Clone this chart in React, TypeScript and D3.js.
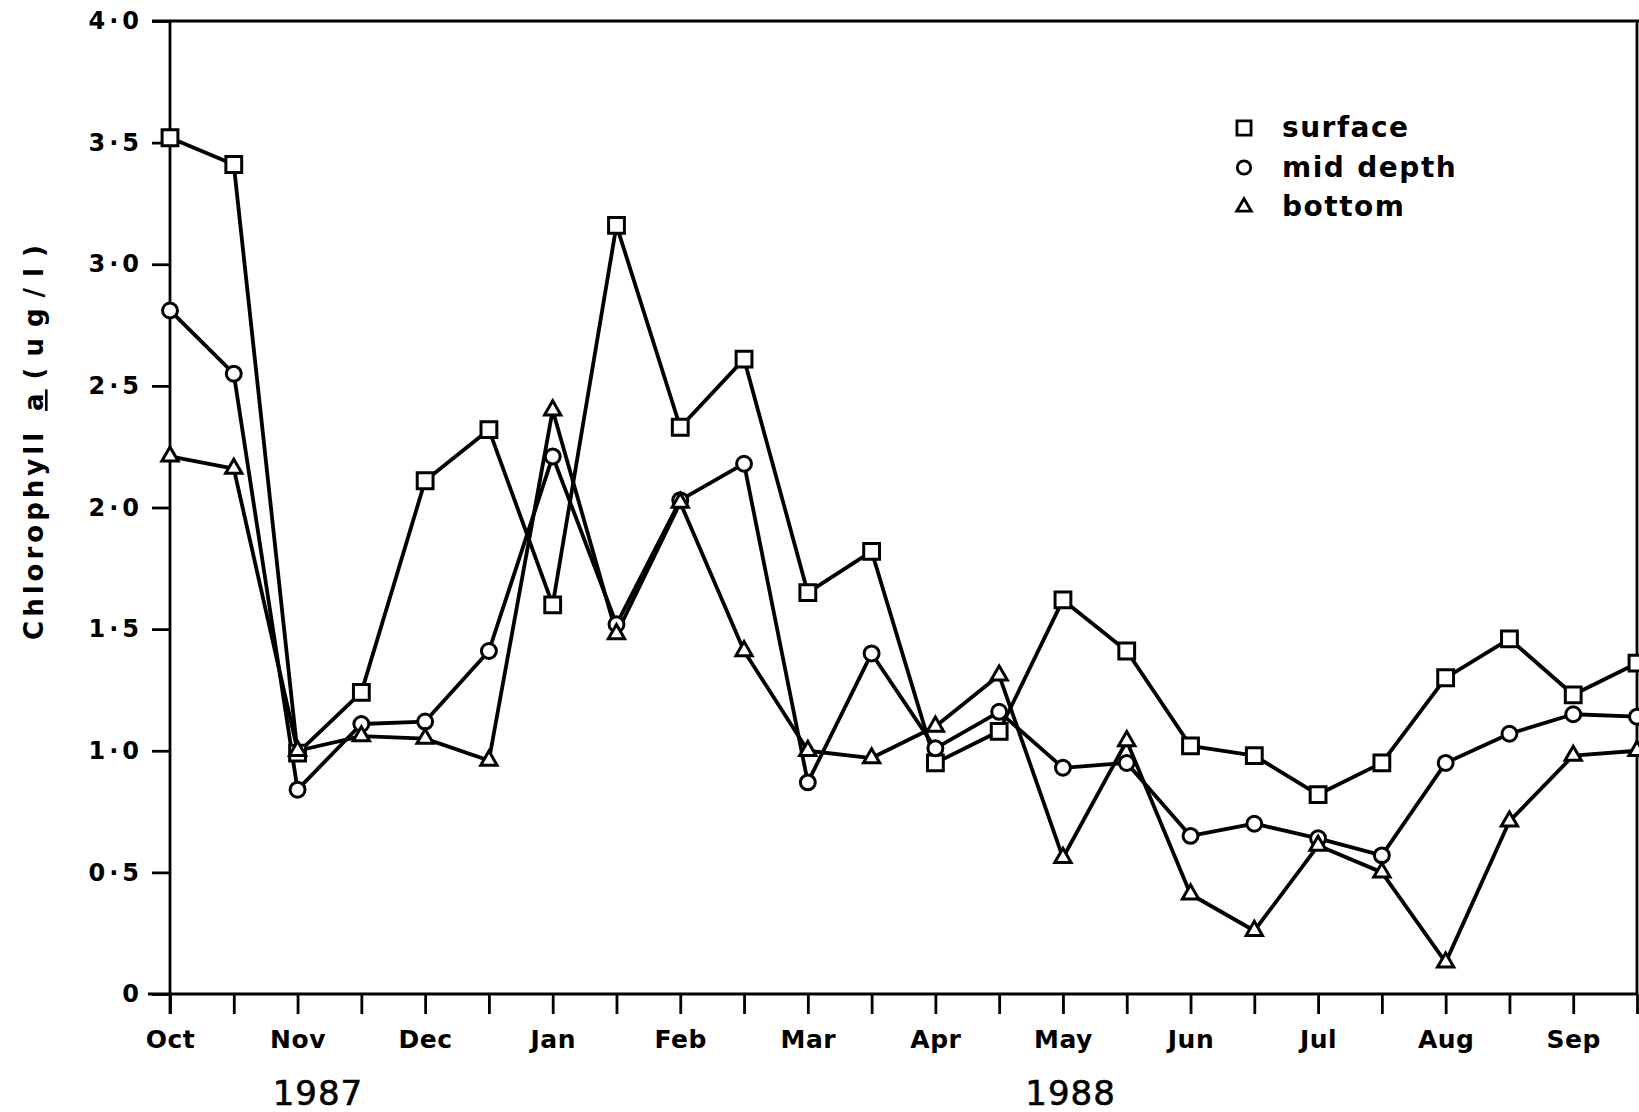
import * as d3 from "d3";
import { useEffect, useRef } from "react";

// monthly-ish sampling, Oct 1987 .. Sep 1988 (two samples per month)
const months = ["Oct", "", "Nov", "", "Dec", "", "Jan", "", "Feb", "", "Mar", "", "Apr", "", "May", "", "Jun", "", "Jul", "", "Aug", "", "Sep", ""];
const surface = [3.52, 3.41, 0.99, 1.24, 2.11, 2.32, 1.60, 3.16, 2.33, 2.61, 1.65, 1.82, 0.95, 1.08, 1.62, 1.41, 1.02, 0.98, 0.82, 0.95, 1.30, 1.46, 1.23, 1.36];
const midDepth = [2.81, 2.55, 0.84, 1.11, 1.12, 1.41, 2.21, 1.52, 2.03, 2.18, 0.87, 1.40, 1.01, 1.16, 0.93, 0.95, 0.65, 0.70, 0.64, 0.57, 0.95, 1.07, 1.15, 1.14];
const bottom = [2.21, 2.16, 1.00, 1.06, 1.05, 0.96, 2.40, 1.48, 2.02, 1.41, 1.00, 0.97, 1.10, 1.31, 0.56, 1.04, 0.41, 0.26, 0.61, 0.50, 0.13, 0.71, 0.98, 1.00];
const yTicks = [0, 0.5, 1, 1.5, 2, 2.5, 3, 3.5, 4];
const years = ["1987", "1988"];
const yearAt = [2.32, 14.12];

const FONT = "'DejaVu Sans', Verdana, sans-serif";

export default function App() {
    const axisBottomRef = useRef<SVGGElement>(null);
    const axisLeftRef = useRef<SVGGElement>(null);

    const width = 1639;
    const height = 1112;
    const margin = { top: 21, right: 2, bottom: 118, left: 170 };

    const x = d3.scaleLinear().domain([0, months.length - 1]).range([margin.left, width - margin.right]);
    const y = d3.scaleLinear().domain([0, 4]).range([height - margin.bottom, margin.top]);

    const line = d3.line<number>().x((d, i) => x(i)).y(d => y(d));

    const series = [
        { name: "surface", values: surface, shape: d3.symbolSquare, size: 250 },
        { name: "mid depth", values: midDepth, shape: d3.symbolCircle, size: 175 },
        { name: "bottom", values: bottom, shape: d3.symbolTriangle, size: 115 },
    ];

    useEffect(() => {
        if (axisBottomRef.current) {
            const g = d3.select(axisBottomRef.current);
            g.call(
                d3.axisBottom(x)
                    .tickValues(d3.range(months.length))
                    .tickSize(20)
                    .tickPadding(16)
                    .tickFormat(i => months[i as number])
            );
            g.select(".domain").remove();
            g.attr("font-family", FONT).attr("font-size", 25).attr("font-weight", "bold");
            g.selectAll("line").attr("stroke", "#000").attr("stroke-width", 2.8);
            g.selectAll("text").attr("fill", "#000").attr("letter-spacing", 0.5);
        }
        if (axisLeftRef.current) {
            const g = d3.select(axisLeftRef.current);
            g.call(
                d3.axisLeft(y)
                    .tickValues(yTicks)
                    .tickSize(18)
                    .tickPadding(13)
                    .tickFormat(d => (d === 0 ? "0" : (d as number).toFixed(1).replace(".", "·")))
            );
            g.select(".domain").remove();
            g.attr("font-family", FONT).attr("font-size", 24).attr("font-weight", "bold");
            g.selectAll("line").attr("stroke", "#000").attr("stroke-width", 2.8);
            g.selectAll("text").attr("fill", "#000").attr("letter-spacing", 4).attr("dx", 4);
        }
    }, [x, y]);

    const x0 = x.range()[0];
    const x1 = x.range()[1];
    const yTop = y.range()[1];
    const yBot = y.range()[0];

    return (
        <div>
            <style>{"body{margin:0;background:#fff}"}</style>
            <svg width={width} height={height} style={{ display: "block", background: "#fff" }}>
                {/* frame */}
                <line x1={x0 - 18} x2={width} y1={yTop} y2={yTop} stroke="#000" strokeWidth={2.8} />
                <line x1={x0 - 22} x2={x1} y1={yBot} y2={yBot} stroke="#000" strokeWidth={3} />
                <line x1={x0} x2={x0} y1={yTop} y2={yBot + 20} stroke="#000" strokeWidth={2.8} />
                <line x1={x1} x2={x1} y1={yTop} y2={yBot} stroke="#000" strokeWidth={2.8} />

                <g ref={axisBottomRef} transform={`translate(0, ${yBot})`} />
                <g ref={axisLeftRef} transform={`translate(${x0}, 0)`} />

                {series.map(s => (
                    <path key={`line-${s.name}`} d={line(s.values) || ""} fill="none" stroke="#000" strokeWidth={3.8} strokeLinejoin="round" />
                ))}
                {series.map(s => (
                    <g key={`pts-${s.name}`}>
                        {s.values.map((v, i) => (
                            <path
                                key={i}
                                transform={`translate(${x(i)}, ${y(v)})`}
                                d={d3.symbol(s.shape, s.size)() || ""}
                                fill="#fff"
                                stroke="#000"
                                strokeWidth={3}
                            />
                        ))}
                    </g>
                ))}

                {/* year labels */}
                {years.map((label, i) => (
                    <text key={label} x={x(yearAt[i])} y={1105} textAnchor="middle" fontFamily={FONT} fontSize={34} letterSpacing={1} fill="#000" stroke="#000" strokeWidth={0.6}>
                        {label}
                    </text>
                ))}

                {/* y axis title */}
                <text transform="translate(43, 437) rotate(-90)" textAnchor="middle" fontFamily={FONT} fontSize={26} fontWeight="bold" fill="#000" letterSpacing={4}>
                    Chlorophyll
                    <tspan dx={18} textDecoration="underline">a</tspan>
                    <tspan dx={10} letterSpacing={11}>(ug/l)</tspan>
                </text>

                {/* legend */}
                {series.map((s, i) => (
                    <g key={`legend-${s.name}`} transform={`translate(1244, ${128 + i * 39.5})`}>
                        <path d={d3.symbol(s.shape, s.size * 0.8)() || ""} fill="#fff" stroke="#000" strokeWidth={2.8} />
                        <text x={38} y={9} fontFamily={FONT} fontSize={28} fontWeight="bold" letterSpacing={1.5} fill="#000">
                            {s.name.split(" ").map((w, k) => (
                                <tspan key={k} dx={k === 0 ? 0 : 12}>{w}</tspan>
                            ))}
                        </text>
                    </g>
                ))}
            </svg>
        </div>
    );
}
